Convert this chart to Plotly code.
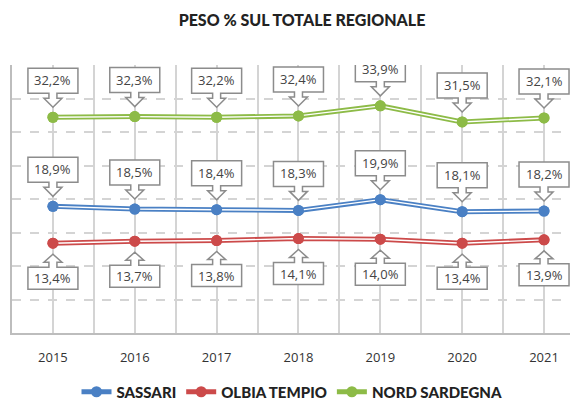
import plotly.graph_objects as go

years = ["2015", "2016", "2017", "2018", "2019", "2020", "2021"]
sassari = [18.9, 18.5, 18.4, 18.3, 19.9, 18.1, 18.2]
olbia = [13.4, 13.7, 13.8, 14.1, 14.0, 13.4, 13.9]
nord = [32.2, 32.3, 32.2, 32.4, 33.9, 31.5, 32.1]

series = [
    ("SASSARI", sassari, "#4a80c4", "up"),
    ("OLBIA TEMPIO", olbia, "#cc4a4a", "down"),
    ("NORD SARDEGNA", nord, "#8dbb47", "up"),
]

xs = list(range(len(years)))
fig = go.Figure()

BOLD_FONT = "Lato, 'Open Sans', sans-serif"
LABEL_FONT = "'Open Sans', Lato, sans-serif"

for name, vals, color, side in series:
    fig.add_trace(go.Scatter(
        x=xs, y=vals, mode="lines+markers", name=name, legendgroup=name,
        line=dict(color=color, width=5),
        marker=dict(color=color, size=11, line=dict(width=0)),
    ))
    fig.add_trace(go.Scatter(
        x=xs, y=vals, mode="lines", legendgroup=name, showlegend=False,
        line=dict(color="white", width=1.4), hoverinfo="skip",
    ))
    fig.add_trace(go.Scatter(
        x=xs, y=vals, mode="markers", legendgroup=name, showlegend=False,
        marker=dict(color=color, size=11, line=dict(width=0)), hoverinfo="skip",
    ))

# callout paths in pixel offsets (y up positive)
up_path = "M -25,49 L 25,49 L 25,24 L 4,24 L 4,19 L 9,19 L 0,10 L -9,19 L -4,19 L -4,24 L -25,24 Z"
down_path = "M -25,-46 L 25,-46 L 25,-24 L 4,-24 L 4,-19 L 9,-19 L 0,-11 L -9,-19 L -4,-19 L -4,-24 L -25,-24 Z"

shapes = []
annotations = []
for name, vals, color, side in series:
    for i, v in enumerate(vals):
        shapes.append(dict(
            type="path", xref="x", yref="y", xsizemode="pixel", ysizemode="pixel",
            xanchor=i, yanchor=v, path=up_path if side == "up" else down_path,
            fillcolor="white", line=dict(color="#8c8c8c", width=1.5), layer="above",
        ))
        annotations.append(dict(
            x=i, y=v, xref="x", yref="y", showarrow=False,
            text=f"{v:.1f}".replace(".", ",") + "%",
            yshift=37 if side == "up" else -35,
            font=dict(family=LABEL_FONT, size=13, color="#444444"),
        ))

# the page body has an 8px margin, so the figure starts at (8, 8)
W, H = 570, 393
fig.update_layout(
    width=W, height=H,
    margin=dict(l=4, r=0, t=57, b=68, autoexpand=False),
    paper_bgcolor="white", plot_bgcolor="white",
    title=dict(
        text="PESO % SUL TOTALE REGIONALE",
        x=294 / W, xanchor="center", xref="container",
        y=1 - 12 / H, yanchor="middle", yref="container",
        font=dict(family=BOLD_FONT, size=16, color="#222222", weight=900),
    ),
    xaxis=dict(
        range=[-0.5, 6.415], tickvals=xs, ticktext=years, tickangle=0,
        showgrid=True, gridcolor="#d4d4d4", gridwidth=1.5,
        minor=dict(tickvals=[i - 0.5 for i in range(8)], showgrid=True,
                   gridcolor="#d4d4d4", gridwidth=1.5),
        showline=True, linecolor="#bdbdbd", linewidth=1.5,
        ticks="", ticklabelstandoff=12,
        tickfont=dict(family=LABEL_FONT, size=13, color="#333333"),
        zeroline=False, fixedrange=True,
    ),
    yaxis=dict(
        range=[0, 40], dtick=5, showticklabels=False,
        showgrid=True, gridcolor="#d4d4d4", gridwidth=1.5, griddash="dash",
        showline=True, linecolor="#bdbdbd", linewidth=1.5,
        zeroline=False, fixedrange=True,
    ),
    legend=dict(
        orientation="h", x=(284 - 4) / 566, xanchor="center",
        y=-59 / 268, yanchor="middle",
        font=dict(family=BOLD_FONT, size=15, color="#222222", weight=900),
        traceorder="normal", bgcolor="rgba(0,0,0,0)",
    ),
    shapes=shapes, annotations=annotations,
    showlegend=True,
)

fig.write_html("out.html")
